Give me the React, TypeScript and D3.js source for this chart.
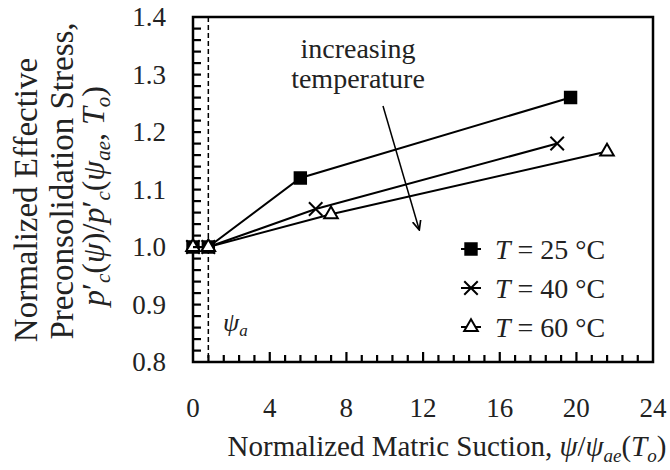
import React from 'react';
import * as d3 from 'd3';

// values
const labels = ['T = 25 °C', 'T = 40 °C', 'T = 60 °C'];
const suction25 = [0, 0.8, 5.6, 19.7];
const stress25 = [1.0, 1.0, 1.12, 1.26];
const suction40 = [0, 0.8, 6.4, 19.0];
const stress40 = [1.0, 1.0, 1.066, 1.18];
const suction60 = [0, 0.8, 7.2, 21.6];
const stress60 = [1.0, 1.0, 1.057, 1.166];
const xTicks = [0, 4, 8, 12, 16, 20, 24];
const yTicks = [0.8, 0.9, 1.0, 1.1, 1.2, 1.3, 1.4];
const airEntry = 0.8;

const FONT = "'Liberation Serif', Tinos, 'DejaVu Serif', serif";

function App() {
    const width = 670, height = 470;
    const x = d3.scaleLinear().domain([0, 24]).range([193, 653]);
    const y = d3.scaleLinear().domain([0.8, 1.4]).range([362, 17]);

    const line = d3.line<number[]>()
        .x(d => x(d[0]))
        .y(d => y(d[1]));

    const series = [
        { label: labels[0], xs: suction25, ys: stress25, shape: d3.symbolSquare, size: 130, fill: '#000' },
        { label: labels[1], xs: suction40, ys: stress40, shape: d3.symbolTimes, size: 120, fill: 'none' },
        { label: labels[2], xs: suction60, ys: stress60, shape: d3.symbolTriangle, size: 80, fill: '#fff' }
    ];

    // inward minor ticks: every 0.8 along x, every 0.02 along y
    const minorX = d3.range(1, 30).map(i => i * 0.8);
    const minorY = d3.range(1, 30).map(i => 0.8 + i * 0.02);

    const marker = (s, cx, cy, key) => (
        <path key={key} d={d3.symbol().type(s.shape).size(s.size)() || ''}
            transform={'translate(' + cx + ',' + cy + ')'}
            fill={s.fill} stroke="#000" strokeWidth={2} />
    );

    const txt = { fontFamily: FONT, fill: '#222' };

    return (
        <svg width={width} height={height} style={{ position: 'absolute', left: 0, top: 0, background: '#fff' }}>
            {/* y title, three rotated lines */}
            <g style={txt} textAnchor="middle">
                <text fontSize={33} transform="translate(37,200) rotate(-90)">Normalized Effective</text>
                <text fontSize={33} transform="translate(73,181) rotate(-90)">Preconsolidation Stress,</text>
                <text fontSize={32} transform="translate(104,196) rotate(-90)">
                    <tspan fontStyle="italic">p</tspan>′<tspan fontSize={21} dy={6} fontStyle="italic">c</tspan>
                    <tspan dy={-6}>(</tspan><tspan fontStyle="italic">ψ</tspan>)/<tspan fontStyle="italic">p</tspan>′<tspan fontSize={21} dy={6} fontStyle="italic">c</tspan>
                    <tspan dy={-6}>(</tspan><tspan fontStyle="italic">ψ</tspan><tspan fontSize={21} dy={6} fontStyle="italic">ae</tspan>
                    <tspan dy={-6}>, </tspan><tspan fontStyle="italic">T</tspan><tspan fontSize={21} dy={6} fontStyle="italic">o</tspan><tspan dy={-6}>)</tspan>
                </text>
            </g>

            {/* dashed air-entry line */}
            <line x1={x(airEntry)} x2={x(airEntry)} y1={y(1.4)} y2={y(0.8)} stroke="#000" strokeWidth={1.5} strokeDasharray="5,3" />

            {/* frame */}
            <rect x={x(0)} y={y(1.4)} width={x(24) - x(0)} height={y(0.8) - y(1.4)} fill="none" stroke="#000" strokeWidth={2.5} />

            {/* tick labels */}
            <g style={txt} fontSize={27}>
                {yTicks.map(v => (
                    <text key={'yl' + v} x={166} y={y(v)} dy="0.35em" textAnchor="end">{v.toFixed(1)}</text>
                ))}
                {xTicks.map(v => (
                    <text key={'xl' + v} x={x(v)} y={417} textAnchor="middle">{v}</text>
                ))}
            </g>

            {/* x title */}
            <text x={447} y={456} fontSize={29} textAnchor="middle" style={txt}>
                Normalized Matric Suction, <tspan fontStyle="italic">ψ</tspan>/<tspan fontStyle="italic">ψ</tspan>
                <tspan fontSize={19} dy={6} fontStyle="italic">ae</tspan><tspan dy={-6}>(</tspan>
                <tspan fontStyle="italic">T</tspan><tspan fontSize={19} dy={6} fontStyle="italic">o</tspan><tspan dy={-6}>)</tspan>
            </text>

            {/* psi_a label */}
            <text x={223} y={331} fontSize={26} fontStyle="italic" style={txt}>ψ<tspan fontSize={17} dy={5}>a</tspan></text>

            {/* series */}
            {series.map((s, i) => {
                const pts = s.xs.map((v, j) => [v, s.ys[j]]);
                return (
                    <g key={'s' + i}>
                        <path d={line(pts) || ''} fill="none" stroke="#000" strokeWidth={2} />
                        {pts.map((p, j) => marker(s, x(p[0]), y(p[1]), 'm' + i + j))}
                    </g>
                );
            })}

            {/* annotation */}
            <defs>
                <marker id="arr" viewBox="0 0 10 10" refX={8} refY={5} markerWidth={7} markerHeight={7} orient="auto">
                    <path d="M0,1 L9,5 L0,9" fill="none" stroke="#000" strokeWidth={1.6} />
                </marker>
            </defs>
            <g style={txt} fontSize={28} textAnchor="middle">
                <text x={358} y={58}>increasing</text>
                <text x={358} y={88}>temperature</text>
            </g>
            <line x1={383} y1={106} x2={419} y2={229} stroke="#000" strokeWidth={1.5} markerEnd="url(#arr)" />

            {/* legend */}
            {series.map((s, i) => {
                const ly = 249 + i * 39;
                return (
                    <g key={'l' + i}>
                        <line x1={461} x2={481} y1={ly} y2={ly} stroke="#000" strokeWidth={2} />
                        {marker(s, 471, ly, 'lm' + i)}
                        <text x={495} y={ly} dy="0.35em" fontSize={28} style={txt}>
                            <tspan fontStyle="italic">T</tspan>{s.label.slice(1)}
                        </text>
                    </g>
                );
            })}

            {/* ticks, on top of everything */}
            {minorY.map((v, i) => (
                <rect key={'ty' + i} x={x(0)} y={y(v) - 1} width={8} height={2.2} fill="#000" />
            ))}
            {minorX.map((v, i) => {
                const len = (i + 1) % 5 === 0 ? 10 : 7;
                return <rect key={'tx' + i} x={x(v) - 1} y={y(0.8) - len} width={2.2} height={len} fill="#000" />;
            })}
        </svg>
    );
}

export default App;
